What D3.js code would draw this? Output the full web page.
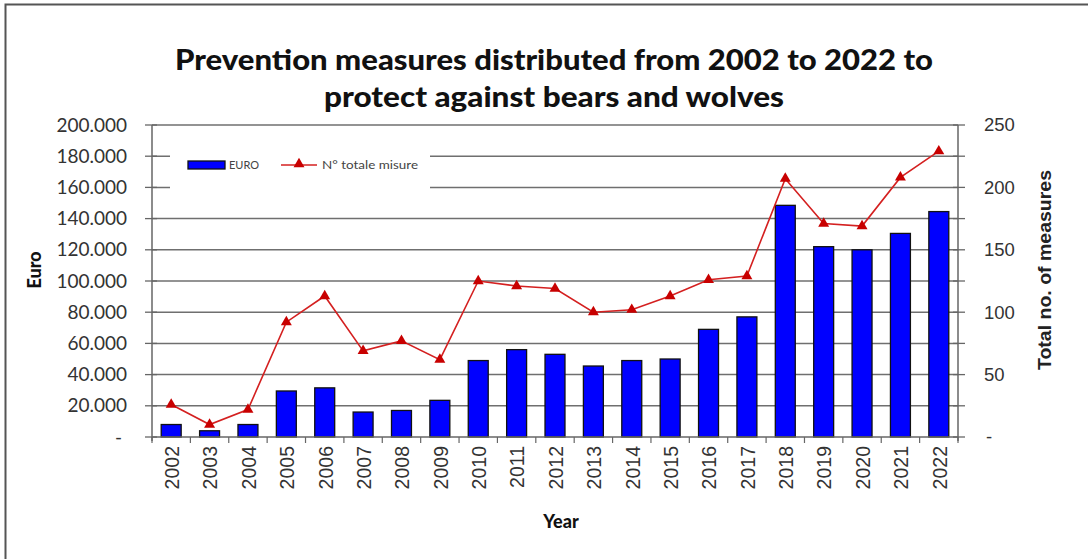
<!DOCTYPE html>
<html><head><meta charset="utf-8">
<script src="https://cdn.jsdelivr.net/npm/d3@7/dist/d3.min.js"></script>
<style>body{margin:0;background:#fff}svg{display:block}</style>
</head><body>
<svg id="chart" width="1088" height="559"></svg>
<script>
const years = ["2002","2003","2004","2005","2006","2007","2008","2009","2010","2011","2012","2013","2014","2015","2016","2017","2018","2019","2020","2021","2022"];
const euro = [8000,4000,8000,29500,31500,16000,17000,23500,49000,56000,53000,45500,49000,50000,69000,77000,148500,122000,120000,130500,144500];
const measures = [26,10,22,92,113,69,77,62,125,121,119,100,102,113,126,129,207,171,169,208,229];
const leftTicks = [0,20000,40000,60000,80000,100000,120000,140000,160000,180000,200000];
const rightTicks = [0,50,100,150,200,250];
const rightMinor = [0,25,50,75,100,125,150,175,200,225,250];
const titleLines = ["Prevention measures distributed from 2002 to 2022 to","protect against bears and wolves"];

const svg = d3.select("#chart");
const L = 152, R = 958, T = 125, B = 437;

// outer border
svg.append("rect").attr("x",5.5).attr("y",4.5).attr("width",1200).attr("height",700)
  .attr("fill","none").attr("stroke","#555").attr("stroke-width",2);

const x = d3.scaleBand().domain(years).range([L,R]).paddingInner(0.48).paddingOuter(0.24);
const xb = d3.scaleBand().domain(years).range([L,R]);
const yL = d3.scaleLinear().domain([0,200000]).range([B,T]);
const yR = d3.scaleLinear().domain([0,250]).range([B,T]);

// gridlines
svg.append("g").selectAll("line").data(leftTicks.filter(d=>d>0)).join("line")
  .attr("x1",L).attr("x2",R).attr("y1",d=>yL(d)).attr("y2",d=>yL(d))
  .attr("stroke","#6f6f6f").attr("stroke-width",1.5);

// legend background (covers gridlines)
svg.append("rect").attr("x",170).attr("y",141).attr("width",260).attr("height",50).attr("fill","#fff");

// bars
svg.append("g").selectAll("rect").data(years).join("rect")
  .attr("x",d=>x(d)).attr("width",x.bandwidth())
  .attr("y",(d,i)=>yL(euro[i])).attr("height",(d,i)=>B-yL(euro[i]))
  .attr("fill","#0000ff").attr("stroke","#111").attr("stroke-width",1.3);

// line
const line = d3.line().x((d,i)=>xb(years[i])+xb.bandwidth()/2).y(d=>yR(d));
svg.append("path").datum(measures).attr("d",line).attr("fill","none")
  .attr("stroke","#d42020").attr("stroke-width",1.6);
const tri = d3.symbol().type(d3.symbolTriangle).size(52);
svg.append("g").selectAll("path").data(measures).join("path")
  .attr("d",tri).attr("transform",(d,i)=>`translate(${xb(years[i])+xb.bandwidth()/2},${yR(d)})`)
  .attr("fill","#c80000");

// axes lines
const axCol = "#666";
svg.append("line").attr("x1",L).attr("x2",L).attr("y1",T).attr("y2",B+4).attr("stroke",axCol).attr("stroke-width",1.5);
svg.append("line").attr("x1",R).attr("x2",R).attr("y1",T).attr("y2",B+4).attr("stroke",axCol).attr("stroke-width",1.5);
svg.append("line").attr("x1",L).attr("x2",R).attr("y1",B).attr("y2",B).attr("stroke",axCol).attr("stroke-width",1.5);

// left axis ticks and labels
const lg = svg.append("g");
lg.selectAll("line").data(leftTicks).join("line")
  .attr("x1",L-7).attr("x2",L+5).attr("y1",d=>yL(d)).attr("y2",d=>yL(d)).attr("stroke",axCol).attr("stroke-width",1.3);
const fmt = d => d===0 ? "-" : d3.format(",")(d).replace(/,/g,".");
lg.selectAll("text").data(leftTicks).join("text")
  .attr("x",d=>d===0?122:127).attr("y",d=>yL(d)).attr("dy","0.35em").attr("text-anchor","end")
  .attr("font-family","Lato, 'Open Sans', sans-serif").attr("font-size",19).attr("fill","#333")
  .text(fmt);

// right axis ticks and labels
const rg = svg.append("g");
rg.selectAll("line").data(rightMinor).join("line")
  .attr("x1",R-5).attr("x2",R+7).attr("y1",d=>yR(d)).attr("y2",d=>yR(d)).attr("stroke",axCol).attr("stroke-width",1.3);
rg.selectAll("text").data(rightTicks).join("text")
  .attr("x",d=>d===0?986:984).attr("y",d=>yR(d)).attr("dy","0.35em").attr("text-anchor","start")
  .attr("font-family","'Liberation Sans', Arial, sans-serif").attr("font-size",18.5).attr("fill","#333")
  .text(d=>d===0?"-":d);

// x ticks
svg.append("g").selectAll("line").data(d3.range(years.length+1)).join("line")
  .attr("x1",i=>L+i*xb.step()).attr("x2",i=>L+i*xb.step()).attr("y1",B).attr("y2",B+6)
  .attr("stroke",axCol).attr("stroke-width",1.2);

// x labels
svg.append("g").selectAll("text").data(years).join("text")
  .attr("transform",d=>`translate(${xb(d)+xb.bandwidth()/2+1},446) rotate(-90)`)
  .attr("text-anchor","end").attr("dy","0.35em")
  .attr("font-family","'Liberation Sans', Arial, sans-serif").attr("font-size",19.5).attr("fill","#333")
  .text(d=>d);

// axis titles
svg.append("text").attr("x",561).attr("y",528).attr("text-anchor","middle")
  .attr("font-family","Lato, sans-serif").attr("font-weight","900").attr("font-size",18).attr("fill","#111").text("Year");
svg.append("text").attr("transform","translate(41,270) rotate(-90)").attr("text-anchor","middle")
  .attr("font-family","Lato, sans-serif").attr("font-weight","900").attr("font-size",18).attr("fill","#111").text("Euro");
svg.append("text").attr("transform","translate(1051,270) rotate(-90)").attr("text-anchor","middle")
  .attr("font-family","'Liberation Sans', Arial, sans-serif").attr("font-weight","bold").attr("font-size",18).attr("fill","#222")
  .attr("textLength",200).attr("lengthAdjust","spacingAndGlyphs").text("Total no. of measures");

// title
svg.append("g").selectAll("text").data(titleLines).join("text")
  .attr("x",554).attr("y",(d,i)=>70+i*37).attr("text-anchor","middle")
  .attr("font-family","Lato, 'Open Sans', sans-serif").attr("font-weight","900").attr("font-size",28).attr("fill","#111")
  .attr("textLength",(d,i)=>i===0?758:460).attr("lengthAdjust","spacingAndGlyphs")
  .text(d=>d);

// legend
const leg = svg.append("g");
leg.append("rect").attr("x",188).attr("y",161).attr("width",37).attr("height",8).attr("fill","#0000ff").attr("stroke","#111").attr("stroke-width",1.3);
leg.append("text").attr("x",229).attr("y",165).attr("dy","0.35em").attr("font-family","Lato, sans-serif").attr("font-size",11).attr("fill","#444").text("EURO");
leg.append("line").attr("x1",281).attr("x2",317).attr("y1",165).attr("y2",165).attr("stroke","#d42020").attr("stroke-width",1.5);
leg.append("path").attr("d",tri).attr("transform","translate(299,164)").attr("fill","#c80000");
leg.append("text").attr("x",322).attr("y",165).attr("dy","0.35em").attr("font-family","Lato, sans-serif").attr("font-size",11).attr("fill","#444")
  .attr("textLength",96).attr("lengthAdjust","spacingAndGlyphs").text("N° totale misure");
</script>
</body></html>
